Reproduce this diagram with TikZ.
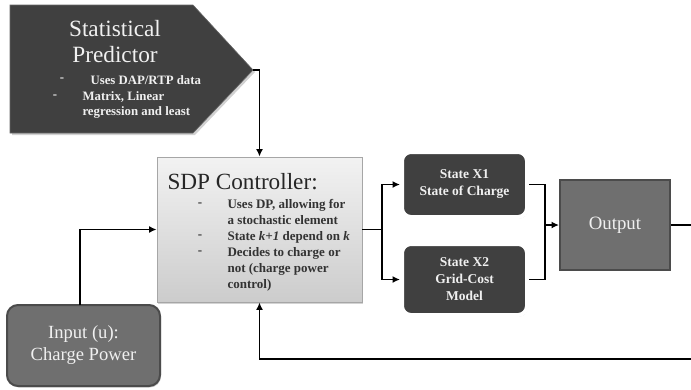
\documentclass[tikz,border=0pt]{standalone}
\usepackage{fontspec}
\setmainfont{Liberation Serif}
\usetikzlibrary{arrows.meta,shadows}

\definecolor{darkbox}{HTML}{404040}
\definecolor{midbox}{HTML}{6F6F6F}
\definecolor{midedge}{HTML}{4B4B4B}
\definecolor{lighttext}{HTML}{F0F0F0}
\definecolor{bodytext}{HTML}{333333}

\tikzset{
  conn/.style={draw=black, line width=1.5pt},
  softshadow/.style={drop shadow={opacity=0.35, shadow xshift=1pt, shadow yshift=-1.5pt}},
  ctrlbox/.style={draw=black!35, line width=0.8pt, top color=black!5, bottom color=black!20,
    minimum width=205pt, minimum height=145pt, softshadow},
  statebox/.style={fill=darkbox, draw=white, line width=4pt, rounded corners=9pt,
    minimum width=125pt, softshadow},
  outbox/.style={fill=midbox, draw=midedge, line width=2pt, minimum width=110pt, minimum height=90pt},
  inbox/.style={fill=midbox, draw=midedge, line width=2pt, rounded corners=11pt,
    minimum width=153pt, minimum height=81pt, softshadow},
  darklabel/.style={text=lighttext, align=center, font=\bfseries\fontsize{13.5}{17}\selectfont},
  bodylabel/.style={text=bodytext, align=left, font=\bfseries\fontsize{13}{16}\selectfont},
  predlabel/.style={text=lighttext, font=\bfseries\fontsize{12.8}{15.5}\selectfont},
}

\begin{document}
\begin{tikzpicture}[x=1pt, y=-1pt, >={Latex[length=7.5pt,width=7pt]}]
\useasboundingbox (0,0) rectangle (691,389);

% statistical predictor (arrow-shaped panel)
\fill[black!30, opacity=0.6] (12,7) -- (195,7) -- (255,72) -- (195,135) -- (12,135) -- cycle;
\filldraw[fill=darkbox, draw=black!60, line width=0.6pt]
  (10,5) -- (193,5) -- (253,70) -- (193,133) -- (10,133) -- cycle;
\coordinate (sptip) at (253,70);
\node[text=lighttext, font=\fontsize{23.3}{26}\selectfont, align=center] (sptitle) at (115,42) {Statistical\\Predictor};
\node[predlabel, anchor=west] (spa) at (87,80) {Uses DAP/RTP data};
\node[predlabel, anchor=west, align=left] (spb) at (79,105) {Matrix, Linear\\regression and least};
\node[predlabel] (spd1) at (62,80) {-};
\node[predlabel] (spd2) at (55,97) {-};

% SDP controller
\node[ctrlbox] (sdp) at (259.5,229.5) {};
\node[text=black!85, font=\fontsize{23.2}{26}\selectfont, anchor=west] (sdptitle) at (164,182) {SDP Controller:};
\node[bodylabel, anchor=west] (sdptext) at (224,245)
  {Uses DP, allowing for\\a stochastic element\\State \textit{k+1} depend on \textit{k}\\Decides to charge or\\not (charge power\\control)};
\node[bodylabel] (sdpd1) at (200,205) {-};
\node[bodylabel] (sdpd2) at (200,237) {-};
\node[bodylabel] (sdpd3) at (200,253) {-};

% state blocks
\node[statebox, minimum height=65pt, darklabel] (x1) at (464.5,184.5) {State X1\\State of Charge};
\node[statebox, minimum height=71pt, darklabel] (x2) at (464.5,279.5) {State X2\\Grid-Cost\\Model};

% output block
\node[outbox, text=lighttext, font=\fontsize{18.8}{22}\selectfont] (out) at (615,225) {Output};

% input block
\node[inbox, text=lighttext, align=center, font=\fontsize{18.6}{22}\selectfont] (input) at (83.5,345.5) {Input (u):\\Charge Power};

% junctions and free ends
\coordinate (inup) at (80,305);
\coordinate (split) at (382,229.5);
\coordinate (merge) at (545,225);
\coordinate (outend) at (691,225);
\coordinate (fbstart) at (691,359);

% connectors
\draw[conn, ->] (sptip) -| (sdp.north);
\draw[conn, ->] (inup) |- (sdp.west);
\draw[conn] (sdp.east) -- (split);
\draw[conn, ->] (split) |- (x1.west);
\draw[conn, ->] (split) |- (x2.west);
\draw[conn] (x1.east) -| (merge);
\draw[conn] (x2.east) -| (merge);
\draw[conn, ->] (merge) -- (out.west);
\draw[conn] (out.east) -- (outend);
\draw[conn, ->] (fbstart) -| (sdp.south);
\end{tikzpicture}
\end{document}
